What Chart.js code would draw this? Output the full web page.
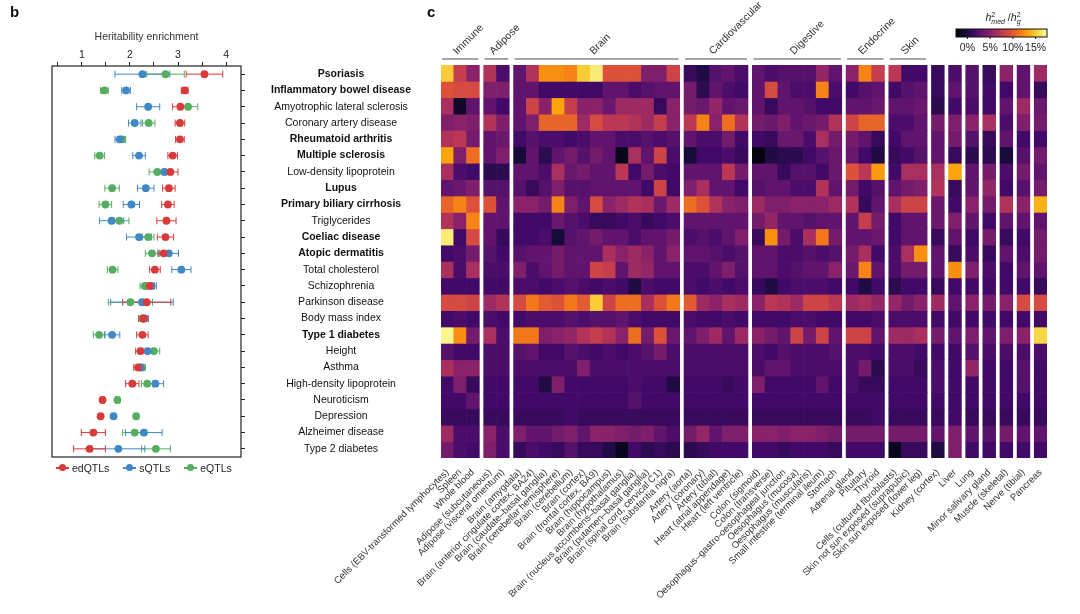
<!DOCTYPE html>
<html>
<head>
<meta charset="utf-8">
<script src="https://cdn.jsdelivr.net/npm/chart.js@4.4.1/dist/chart.umd.min.js"></script>
<style>
  body { margin: 0; background: #fff; font-family: "Liberation Sans", Arial, sans-serif; }
  #wrap { position: relative; width: 1080px; height: 614px; overflow: hidden; }
  canvas { position: absolute; top: 0; }
  #chartB { left: 0; }
  #chartC { left: 300px; }
  .panel { position: absolute; top: 3px; font-size: 15px; font-weight: bold; color: #111; }
  #legendB { position: absolute; left: 56px; top: 462px; font-size: 10.5px; color: #222; display: flex; }
  #legendB .item { display: flex; align-items: center; margin-right: 14px; }
  #legendB .mark { position: relative; width: 13px; height: 1.5px; margin-right: 3px; }
  #legendB .dot { position: absolute; left: 3px; top: -3px; width: 7px; height: 7px; border-radius: 50%; }
</style>
</head>
<body>
<div id="wrap">
  <canvas id="chartB" width="430" height="614"></canvas>
  <canvas id="chartC" width="780" height="614"></canvas>
  <div class="panel" style="left:10px">b</div>
  <div class="panel" style="left:427px">c</div>
  <div id="legendB"></div>
</div>
<script>
// ---------- panel b: heritability enrichment ----------
const traits = ["Psoriasis", "Inflammatory bowel disease", "Amyotrophic lateral sclerosis", "Coronary artery disease",
  "Rheumatoid arthritis", "Multiple sclerosis", "Low-density lipoprotein", "Lupus", "Primary biliary cirrhosis",
  "Triglycerides", "Coeliac disease", "Atopic dermatitis", "Total cholesterol", "Schizophrenia", "Parkinson disease",
  "Body mass index", "Type 1 diabetes", "Height", "Asthma", "High-density lipoprotein", "Neuroticism", "Depression",
  "Alzheimer disease", "Type 2 diabetes"];
const boldTraits = [true, true, false, false, true, true, false, true, true, false, true, true,
  false, false, false, false, true, false, false, false, false, false, false, false];

const edMean = [3.55, 3.14, 3.05, 3.04, 3.04, 2.89, 2.84, 2.81, 2.79, 2.76, 2.74, 2.70, 2.52, 2.41, 2.35, 2.28, 2.26, 2.22, 2.17, 2.05, 1.43, 1.39, 1.24, 1.16];
const edErr  = [0.38, 0.07, 0.16, 0.10, 0.09, 0.10, 0.16, 0.13, 0.13, 0.20, 0.17, 0.12, 0.11, 0.10, 0.50, 0.10, 0.12, 0.10, 0.09, 0.14, 0.04, 0.04, 0.25, 0.33];
const sMean  = [2.26, 1.92, 2.38, 2.10, 1.79, 2.19, 2.72, 2.33, 2.03, 1.62, 2.19, 2.81, 3.07, 2.45, 2.25, 2.30, 1.63, 2.37, 2.22, 2.53, null, 1.66, 2.29, 1.76];
const sErr   = [0.57, 0.09, 0.24, 0.13, 0.10, 0.13, 0.15, 0.17, 0.17, 0.25, 0.26, 0.20, 0.20, 0.10, 0.65, 0.08, 0.16, 0.10, 0.07, 0.17, 0, 0.04, 0.38, 0.55];
const eMean  = [2.74, 1.47, 3.21, 2.39, 1.83, 1.37, 2.57, 1.63, 1.49, 1.78, 2.38, 2.46, 1.64, 2.31, 2.01, 2.26, 1.36, 2.50, 2.25, 2.36, 1.74, 2.13, 2.10, 2.54];
const eErr   = [0.39, 0.08, 0.20, 0.13, 0.08, 0.10, 0.17, 0.15, 0.13, 0.20, 0.12, 0.14, 0.11, 0.10, 0.46, 0.08, 0.12, 0.12, 0.07, 0.12, 0.04, 0.04, 0.25, 0.30];

const seriesNames = ["edQTLs", "sQTLs", "eQTLs"];
const seriesColors = ["#d83a3a", "#3f88c5", "#55ae60"];
const xTicksB = [0.5, 1, 1.5, 2, 2.5, 3, 3.5, 4];

// ---------- panel c: mediated heritability per tissue ----------
const groupNames = ["Immune", "Adipose", "Brain", "Cardiovascular", "Digestive", "Endocrine", "Skin", "", "", "", "", "", "", ""];
const groupSizes = [3, 2, 13, 5, 7, 3, 3, 1, 1, 1, 1, 1, 1, 1];
const tissues = ["Cells (EBV-transformed lymphocytes)", "Spleen", "Whole blood",
  "Adipose (subcutaneous)", "Adipose (visceral omentum)",
  "Brain (amygdala)", "Brain (anterior cingulate cortex, BA24)", "Brain (caudate–basal ganglia)",
  "Brain (cerebellar hemisphere)", "Brain (cerebellum)", "Brain (cortex)", "Brain (frontal cortex, BA9)",
  "Brain (hippocampus)", "Brain (hypothalamus)", "Brain (nucleus accumbens–basal ganglia)",
  "Brain (putamen–basal ganglia)", "Brain (spinal cord, cervical C1)", "Brain (substantia nigra)",
  "Artery (aorta)", "Artery (coronary)", "Artery (tibial)", "Heart (atrial appendage)", "Heart (left ventricle)",
  "Colon (sigmoid)", "Colon (transverse)", "Oesophagus–gastro-oesophageal junction", "Oesophagus (mucosa)",
  "Oesophagus (muscularis)", "Small intestine (terminal ileum)", "Stomach",
  "Adrenal gland", "Pituitary", "Thyroid",
  "Cells (cultured fibroblasts)", "Skin not sun exposed (suprapubic)", "Skin sun exposed (lower leg)",
  "Kidney (cortex)", "Liver", "Lung", "Minor salivary gland", "Muscle (skeletal)", "Nerve (tibial)", "Pancreas"];

// h2med / h2g in %, one array per trait, columns in tissue order
const hmPsoriasis = [15, 8, 5, 7, 2, 3, 7, 12.5, 12.5, 12, 15, 16.5, 9.5, 9.5, 9.5, 4.5, 4.5, 8.5, 1, 0, 2.5, 3, 2, 3, 2, 2.5, 2.5, 2.5, 5.5, 3, 5, 12, 8, 7.5, 1.5, 1.5, 1, 2, 2.5, 1, 5, 3, 6];
const hmIBD = [9.5, 9, 9, 4.5, 4.5, 3, 3, 1.5, 1.5, 1.5, 1.5, 1.5, 3, 3, 2, 2.5, 3, 3, 4, 0.5, 3, 2, 1.5, 3, 9, 3, 2, 2, 12, 2, 1.5, 2.5, 3, 1.5, 2.5, 3, 1, 3, 2.5, 1.5, 1.5, 3, 1];
const hmALS = [6.5, -1, 3, 3, 1.5, 3, 8.5, 5, 13.5, 8, 5, 5, 3.5, 6, 6, 6, 1, 5, 4, 3.5, 5.5, 3, 3.5, 3, 1, 3, 3, 2.5, 1.5, 1.5, 3, 3, 3.5, 3, 3, 3.5, 0.5, 1.5, 2, 1.5, 3, 6, 3.5];
const hmCAD = [4.5, 5, 4.5, 7, 4.5, 3, 4.5, 10.5, 10.5, 10.5, 6, 9, 7.5, 7.5, 7, 6, 8, 5, 7.5, 12, 5, 11, 7, 4, 3.5, 4.5, 3, 3.5, 4, 7, 8.5, 10.5, 10.5, 2, 2, 3, 4, 4.5, 5, 6.5, 2, 4.5, 4];
const hmRA = [7, 7.5, 4, 3, 3.5, 1.5, 2.5, 2, 2, 1.5, 2, 3, 3, 2, 2, 2.5, 2, 2.5, 3, 2, 2, 4, 1.5, 1.5, 1, 3.5, 3.5, 2, 6.5, 4, 4, 3, 1, 1.5, 3, 3, 3, 4, 2.5, 1, 3, 1.5, 1.5];
const hmMS = [13.5, 4.5, 11, 3, 4.5, -0.5, 3, 0.5, 3, 4, 2.5, 4, 3, -1.5, 6.5, 3, 8.5, 2, -0.5, 1.5, 1.5, 2, 1, -2, 0, 0.5, 0.5, 1.5, 2.5, 3.5, 3.5, 1.5, 0, 1, 1.5, 2.5, 3, 1, 0.5, 0.5, -0.5, 2.5, 4];
const hmLDL = [6.5, 2, 1.5, 0.5, 0.5, 3, 3, 2, 6.5, 3.5, 4, 3, 3, 7.5, 1.5, 4, 2, 1.5, 3, 3, 3, 7.5, 4, 3, 3, 1, 2.5, 2.5, 1.5, 3.5, 9.5, 7.5, 13, 1.5, 6.5, 6.5, 6.5, 13.5, 3, 4, 2, 4, 3];
const hmLupus = [3, 3.5, 4.5, 2.5, 2.5, 2.5, 1, 2.5, 4.5, 2.5, 2.5, 3, 3, 3, 3, 1.5, 8.5, 1.5, 4.5, 6.5, 3, 3, 1.5, 2.5, 3, 3, 2, 2, 7, 3, 4, 1.5, 2.5, 3, 4, 4.5, 7, 1, 3, 5.5, 1.5, 2.5, 4];
const hmPBC = [10.5, 12, 9.5, 9.5, 3, 5, 5, 4, 12, 4.5, 3, 9, 5, 6, 7, 6.5, 3.5, 6, 11, 9.5, 7, 5, 4.5, 6, 4.5, 4.5, 5, 5, 5, 6, 7, 1, 3, 6.5, 8.5, 8.5, 3.5, 1.5, 5, 4, 7, 5, 14];
const hmTG = [7, 5, 12, 3, 3, 1.5, 1.5, 1.5, 3.5, 2.5, 2, 1, 1, 1.5, 2, 1, 1.5, 2, 3, 3, 3, 3, 3, 4, 5.5, 3, 3, 2.5, 3, 3, 3, 8, 4, 1.5, 3, 3, 3.5, 4.5, 3, 1.5, 3, 3, 3];
const hmCoeliac = [16.5, 1.5, 9, 3, 1, 1.5, 1.5, 2, -0.5, 2.5, 3, 4, 3, 3, 2, 3, 3, 4, 2, 2.5, 2, 3, 4.5, 1, 12.5, 4, 2, 6.5, 11.5, 4, 3, 3, 3.5, 1.5, 3, 3, 1, 3, 1.5, 4, 1, 1.5, 4];
const hmAtopic = [1.5, 2, 4, 2.5, 1.5, 2.5, 3, 3, 4, 3, 3, 3, 6.5, 5, 6, 5, 3, 5, 3, 3, 2.5, 2, 2.5, 3, 3, 2, 2, 2.5, 2, 2.5, 4, 6.5, 1.5, 2, 6.5, 12.5, 3, 1, 2, 1, 3, 2, 4];
const hmTC = [6.5, 2, 6.5, 2, 2, 4.5, 2, 3, 4, 3, 3, 8.5, 8, 3, 6, 5.5, 3, 3, 2, 2, 3, 4.5, 2.5, 3, 3, 2, 2.5, 3, 3, 5, 3.5, 12, 3, 2, 4, 4, 3, 12.5, 4.5, 2, 1.5, 3, 3];
const hmSchizo = [1.5, 1.5, 1.5, 1.5, 1.5, 2, 2, 1.5, 2, 2.5, 2, 1.5, 2, 1.5, 0, 2, 1.5, 1.5, 2, 1.5, 2, 1.5, 2, 1, 0, 1.5, 2, 2, 2, 1.5, 1.5, 0, 1.5, 0.5, 1.5, 1.5, 1, 1.5, 1.5, 1.5, 1.5, 1.5, 1];
const hmParkinson = [9, 9, 8.5, 6, 7, 9, 11.5, 10, 9.5, 11.5, 10, 15, 8.5, 11, 11, 6.5, 9.5, 11.5, 10, 6, 5, 6.5, 6, 5, 7.5, 7, 6, 8.5, 8.5, 7.5, 6, 6.5, 5.5, 5.5, 4, 5, 6, 3, 5, 4, 5, 9, 9];
const hmBMI = [1.5, 2, 1.5, 2, 1.5, 1.5, 2, 2, 2, 2.5, 2, 2.5, 2.5, 3, 2, 1.5, 1.5, 1.5, 2, 1.5, 1.5, 2, 1.5, 1.5, 1.5, 1.5, 2, 2, 1.5, 1.5, 1.5, 1.5, 2, 2, 2, 2, 1.5, 1.5, 1.5, 1.5, 1.5, 1.5, 1.5];
const hmT1D = [17, 12.5, 4, 6.5, 2, 11.5, 11.5, 4.5, 5, 5.5, 7, 8, 7, 5, 11, 4, 9.5, 3.5, 3, 4.5, 6, 3, 6, 5, 4, 3, 8.5, 4, 8.5, 3, 8.5, 8.5, 3, 6, 6, 6.5, 4, 3, 4.5, 3, 4.5, 5, 15.5];
const hmHeight = [2.5, 1.5, 1.5, 2, 2, 2.5, 3, 1.5, 1.5, 2.5, 2, 1.5, 2, 1.5, 2, 2.5, 4, 2, 2, 2, 2, 2, 2, 2, 1.5, 2.5, 2, 2, 2, 2.5, 2, 2, 1.5, 2, 2, 1.5, 1.5, 1.5, 2.5, 2, 2, 2, 2];
const hmAsthma = [6.5, 5, 5, 2, 2, 2, 2, 2, 2, 2, 4.5, 2, 2, 2, 2, 2, 2, 2, 2, 2, 2, 2, 2, 2, 3, 3, 2, 2, 2, 2, 2, 4, 0.5, 2, 2, 1, 2, 1.5, 5.5, 1.5, 1.5, 2.5, 1.5];
const hmHDL = [1.5, 4.5, 1, 1.5, 1.5, 1.5, 1.5, 0, 4.5, 1.5, 1.5, 1.5, 1.5, 1.5, 2, 1.5, 1.5, 0, 1.5, 1.5, 1.5, 1, 1.5, 4.5, 1.5, 1.5, 1.5, 1.5, 3, 1.5, 2, 1, 1, 1.5, 1.5, 1.5, 2, 1.5, 1.5, 1.5, 1.5, 2.5, 1.5];
const hmNeuro = [1.5, 1.5, 3, 1.5, 1.5, 1.5, 1.5, 1.5, 1.5, 1.5, 1.5, 1.5, 1.5, 1.5, 2.5, 1.5, 1.5, 1.5, 1.5, 1.5, 1.5, 1.5, 1.5, 1.5, 1.5, 1.5, 1.5, 1.5, 1.5, 1.5, 1.5, 1.5, 1.5, 1.5, 1.5, 1.5, 1.5, 1.5, 1.5, 1.5, 1.5, 1.5, 1.5];
const hmDepression = [1, 1, 1, 1, 1, 1, 1, 1, 1, 1.5, 1, 1, 1, 1, 1, 1, 1, 1, 1, 1, 1, 1, 1, 1, 1, 1, 1, 1, 1, 1, 1, 1, 1.5, 1, 1, 1, 1, 1.5, 1, 1, 1, 1, 1];
const hmAlzheimer = [6, 2, 2, 5, 2, 4.5, 3, 3, 4, 4.5, 3, 5, 5, 4.5, 4, 4.5, 3, 2, 4, 5.5, 3, 4.5, 4.5, 5, 5, 4.5, 5, 5, 4.5, 4, 4, 4, 4, 4, 4, 4, 3, 4.5, 3, 2.5, 4, 3, 3];
const hmT2D = [4, 2, 1.5, 4.5, 2, 1, 2, 1.5, 1, 2.5, 1, 1, 0, -1.5, 1.5, 0.5, 1, 0.5, 0.5, 1, 1.5, 1.5, 1.5, 1.5, 1.5, 1, 1.5, 1.5, 1.5, 1, 1.5, 1.5, 1.5, -1.5, 1, 1, 0, 4.5, 1.5, 1.5, 1.5, 1.5, 1.5];

const heatRows = [hmPsoriasis, hmIBD, hmALS, hmCAD, hmRA, hmMS, hmLDL, hmLupus, hmPBC, hmTG, hmCoeliac, hmAtopic,
  hmTC, hmSchizo, hmParkinson, hmBMI, hmT1D, hmHeight, hmAsthma, hmHDL, hmNeuro, hmDepression, hmAlzheimer, hmT2D];

const cbTicks = [0, 5, 10, 15];
const cbMin = -2.5, cbMax = 17.5;
const inferno = ["#000004", "#160b39", "#420a68", "#6a176e", "#932667", "#bc3754", "#dd513a", "#f37819", "#fca50a", "#f6d746", "#fcffa4"];

Chart.defaults.font.family = '"Liberation Sans", Arial, sans-serif';
Chart.defaults.color = "#222";

function hexToRgb(h) {
    return [parseInt(h.slice(1, 3), 16), parseInt(h.slice(3, 5), 16), parseInt(h.slice(5, 7), 16)];
}
const infernoRgb = inferno.map(hexToRgb);

function colorFor(v) {
    let t = (v - cbMin) / (cbMax - cbMin);
    t = Math.max(0, Math.min(1, t)) * (infernoRgb.length - 1);
    const i = Math.min(Math.floor(t), infernoRgb.length - 2);
    const f = t - i;
    const a = infernoRgb[i], b = infernoRgb[i + 1];
    const c = a.map((x, k) => Math.round(x + (b[k] - x) * f));
    return `rgb(${c[0]},${c[1]},${c[2]})`;
}

heatRows.forEach((r, i) => { if (r.length !== tissues.length) console.log("row", i, "has", r.length); });

// ---------- chart b ----------
const errorBars = {
    id: "errorBars",
    beforeDatasetsDraw(chart) {
        const { ctx, scales: { x, y } } = chart;
        ctx.save();
        ctx.lineWidth = 1;
        chart.data.datasets.slice().reverse().forEach(ds => {
            ctx.strokeStyle = ds.borderColor;
            ds.data.forEach((pt, i) => {
                if (pt.x == null) return;
                const e = ds.errors[i];
                const x0 = x.getPixelForValue(pt.x - e);
                const x1 = x.getPixelForValue(pt.x + e);
                const yy = y.getPixelForValue(pt.y);
                ctx.beginPath();
                ctx.moveTo(x0, yy); ctx.lineTo(x1, yy);
                ctx.moveTo(x0, yy - 3.5); ctx.lineTo(x0, yy + 3.5);
                ctx.moveTo(x1, yy - 3.5); ctx.lineTo(x1, yy + 3.5);
                ctx.stroke();
            });
        });
        ctx.restore();
    }
};

const frameBox = {
    id: "frameBox",
    afterDraw(chart) {
        const { ctx, chartArea: a } = chart;
        ctx.save();
        ctx.strokeStyle = "#222";
        ctx.lineWidth = 1.2;
        ctx.strokeRect(a.left, a.top, a.right - a.left, a.bottom - a.top);
        ctx.restore();
    }
};

const meansB = [edMean, sMean, eMean];
const errsB = [edErr, sErr, eErr];

new Chart(document.getElementById("chartB"), {
    type: "scatter",
    data: {
        datasets: seriesNames.map((name, s) => ({
            label: name,
            data: meansB[s].map((v, i) => ({ x: v, y: i })),
            errors: errsB[s],
            backgroundColor: seriesColors[s],
            borderColor: seriesColors[s],
            pointRadius: 3.9,
            pointBorderWidth: 0
        }))
    },
    options: {
        responsive: false,
        animation: false,
        layout: { padding: { left: 52, right: 0, top: 31, bottom: 157 } },
        plugins: { legend: { display: false }, tooltip: { enabled: false } },
        scales: {
            x: {
                type: "linear",
                position: "top",
                min: 0.38,
                max: 4.31,
                afterBuildTicks: s => { s.ticks = xTicksB.map(v => ({ value: v })); },
                afterFit: s => { s.height = 35; },
                ticks: {
                    callback: v => Number.isInteger(v) ? v : "",
                    font: { size: 10.5 },
                    color: "#222",
                    padding: 1,
                    maxRotation: 0,
                    autoSkip: false
                },
                grid: { drawOnChartArea: false, tickLength: 4, color: "#222" },
                border: { display: false },
                title: { display: true, text: "Heritability enrichment", font: { size: 10.5 }, color: "#333", padding: { top: 0, bottom: 2 } }
            },
            y: {
                type: "linear",
                position: "right",
                min: -0.5,
                max: 23.5,
                reverse: true,
                afterBuildTicks: s => { s.ticks = traits.map((_, i) => ({ value: i })); },
                afterFit: s => { s.width = 189; },
                ticks: {
                    callback: v => traits[v],
                    crossAlign: "center",
                    padding: 26,
                    autoSkip: false,
                    color: "#111",
                    font: ctx => ({ size: 10.5, weight: boldTraits[ctx.index] ? "bold" : "normal" })
                },
                grid: { drawOnChartArea: false, tickLength: 4, color: "#222" },
                border: { display: false }
            }
        }
    },
    plugins: [errorBars, frameBox]
});

// legend for b
const legendB = document.getElementById("legendB");
seriesNames.forEach((name, s) => {
    const item = document.createElement("span");
    item.className = "item";
    item.innerHTML = `<span class="mark" style="background:${seriesColors[s]}"><span class="dot" style="background:${seriesColors[s]}"></span></span>${name}`;
    legendB.appendChild(item);
});

// ---------- chart c ----------
const colGap = 0.34;
const colPos = [];
let p = 0;
groupSizes.forEach(n => {
    for (let k = 0; k < n; k++) { colPos.push(p); p += 1; }
    p += colGap;
});

const groupHeaders = {
    id: "groupHeaders",
    afterDraw(chart) {
        const { ctx, chartArea: a, scales: { x } } = chart;
        const half = (x.getPixelForValue(1) - x.getPixelForValue(0)) / 2;
        ctx.save();
        let start = 0;
        groupSizes.forEach((n, g) => {
            const name = groupNames[g];
            if (name) {
                const x0 = x.getPixelForValue(colPos[start]) - half + 1;
                const x1 = x.getPixelForValue(colPos[start + n - 1]) + half - 1;
                const ly = a.top - 6;
                ctx.strokeStyle = "#8a8a8a";
                ctx.lineWidth = 1.5;
                ctx.beginPath();
                ctx.moveTo(x0, ly); ctx.lineTo(x1, ly);
                ctx.stroke();
                ctx.save();
                ctx.translate((x0 + x1) / 2 - 3, ly - 4);
                ctx.rotate(-Math.PI / 4);
                ctx.fillStyle = "#333";
                ctx.font = '10.5px "Liberation Sans", Arial, sans-serif';
                ctx.textAlign = "left";
                ctx.textBaseline = "alphabetic";
                ctx.fillText(name, 0, 0);
                ctx.restore();
            }
            start += n;
        });

        // colour bar
        const w = 91, h = 8;
        const left = a.right - w, top = 29;
        for (let i = 0; i < w; i++) {
            ctx.fillStyle = colorFor(cbMin + (i + 0.5) / w * (cbMax - cbMin));
            ctx.fillRect(left + i, top, 1.2, h);
        }
        ctx.strokeStyle = "#111";
        ctx.lineWidth = 1;
        ctx.strokeRect(left, top, w, h);
        ctx.fillStyle = "#222";
        ctx.font = '10.5px "Liberation Sans", Arial, sans-serif';
        ctx.textAlign = "center";
        ctx.textBaseline = "middle";
        cbTicks.forEach(v => {
            const tx = left + (v - cbMin) / (cbMax - cbMin) * w;
            ctx.beginPath();
            ctx.moveTo(tx, top + h); ctx.lineTo(tx, top + h + 2);
            ctx.stroke();
            ctx.fillText(v + "%", tx, top + h + 11);
        });

        // colour bar title: h2med / h2g
        const cx = left + w / 2 - 16;
        const ty = top - 8;
        ctx.textAlign = "left";
        ctx.textBaseline = "alphabetic";
        const parts = [
            ["italic 10.5px", "h", 0], ["7px", "2", -4], ["italic 7px", "med", 2.5], ["10.5px", " /", 0],
            ["italic 10.5px", "h", 0], ["7px", "2", -4], ["italic 7px", "g", 2.5]
        ];
        let px = cx;
        let supW = 0;
        parts.forEach(([f, t, dy]) => {
            ctx.font = f + ' "Liberation Sans", Arial, sans-serif';
            if (t === "med" || t === "g") px -= supW;
            ctx.fillText(t, px, ty + dy);
            const tw = ctx.measureText(t).width;
            if (t === "2") supW = tw;
            px += tw;
        });
        ctx.restore();
    }
};

new Chart(document.getElementById("chartC"), {
    type: "bar",
    data: {
        datasets: heatRows.map((row, r) => ({
            label: traits[r],
            data: colPos.map(x => ({ x: x, y: [r - 0.5, r + 0.5] })),
            backgroundColor: row.map(colorFor),
            borderWidth: 0,
            grouped: false,
            barPercentage: 1,
            categoryPercentage: 1
        }))
    },
    options: {
        responsive: false,
        animation: false,
        layout: { padding: { left: 141, right: 33, top: 65, bottom: 6 } },
        plugins: { legend: { display: false }, tooltip: { enabled: false } },
        scales: {
            x: {
                type: "linear",
                offset: false,
                min: colPos[0] - 0.5,
                max: colPos[colPos.length - 1] + 0.5,
                afterBuildTicks: s => { s.ticks = colPos.map(v => ({ value: v })); },
                afterFit: s => { s.height = 150; },
                ticks: {
                    callback: (v, i) => tissues[i],
                    minRotation: 45,
                    maxRotation: 45,
                    autoSkip: false,
                    padding: 1,
                    color: "#333",
                    font: { size: 9.5 }
                },
                grid: { display: false },
                border: { display: false }
            },
            y: {
                type: "linear",
                display: false,
                min: -0.5,
                max: 23.5,
                reverse: true
            }
        }
    },
    plugins: [groupHeaders]
});
</script>
</body>
</html>
